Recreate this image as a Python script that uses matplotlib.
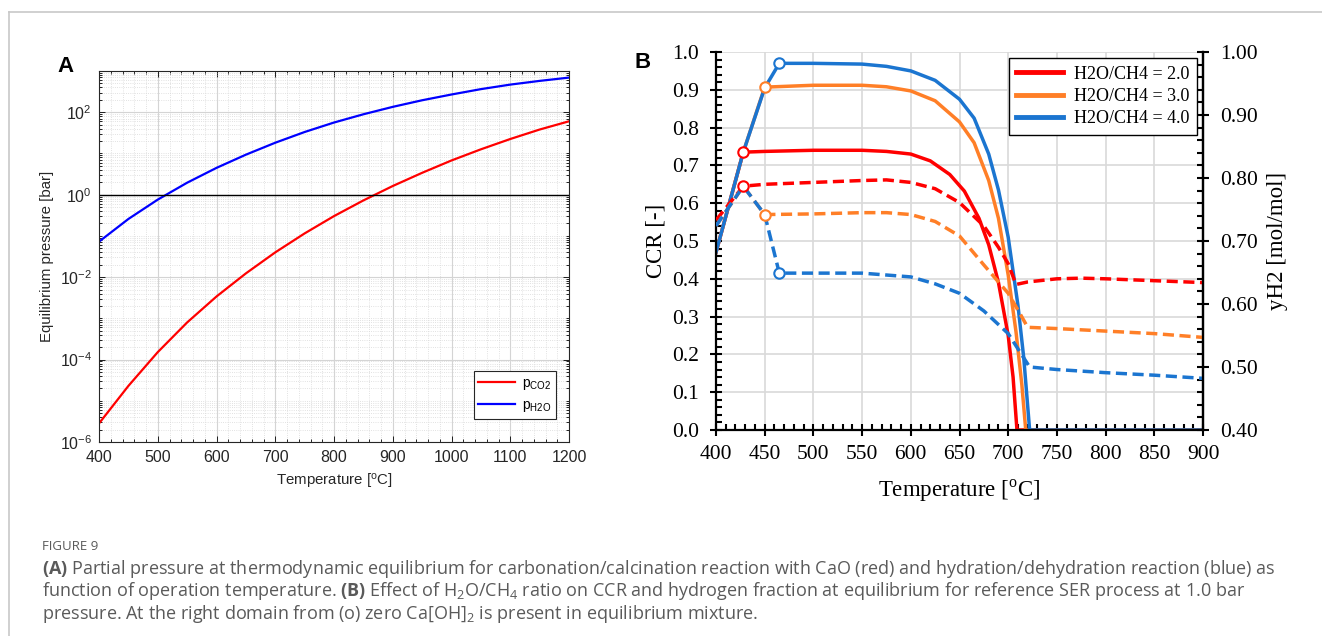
import numpy as np
import matplotlib.pyplot as plt
from matplotlib.lines import Line2D
from matplotlib.ticker import LogLocator, MultipleLocator, FormatStrFormatter, NullFormatter

# ---------------- panel A: equilibrium pressures (log10 bar) ----------------
T_A = [400, 450, 500, 550, 600, 650, 700, 750, 800, 850, 900, 950, 1000, 1050, 1100, 1150, 1200]
LOG_P_CO2 = [-5.55, -4.64, -3.82, -3.10, -2.47, -1.91, -1.40, -0.94, -0.52, -0.14, 0.21,
             0.53, 0.83, 1.10, 1.35, 1.58, 1.78]
LOG_P_H2O = [-1.14, -0.59, -0.12, 0.29, 0.65, 0.97, 1.26, 1.52, 1.75, 1.95, 2.13,
             2.29, 2.43, 2.56, 2.67, 2.76, 2.84]

# ---------------- panel B: CCR (solid) and yH2 (dashed) ----------------
T_CCR_2 = [400, 428, 450, 500, 550, 575, 600, 620, 640, 655, 670, 680, 690, 700, 705, 709, 900]
CCR_2 = [0.47, 0.735, 0.737, 0.74, 0.74, 0.737, 0.73, 0.712, 0.676, 0.632, 0.56, 0.49, 0.39,
         0.25, 0.14, 0.0, 0.0]
T_CCR_3 = [400, 428, 450, 500, 550, 575, 600, 625, 650, 665, 680, 690, 700, 708, 714, 718, 900]
CCR_3 = [0.47, 0.735, 0.907, 0.912, 0.912, 0.908, 0.897, 0.871, 0.815, 0.76, 0.66, 0.56, 0.41,
         0.26, 0.12, 0.0, 0.0]
T_CCR_4 = [400, 428, 450, 465, 500, 550, 575, 600, 625, 650, 665, 680, 690, 700, 710, 716, 722, 900]
CCR_4 = [0.47, 0.735, 0.905, 0.97, 0.97, 0.968, 0.962, 0.95, 0.925, 0.875, 0.825, 0.73, 0.635,
         0.51, 0.33, 0.19, 0.0, 0.0]

T_YH2_2 = [400, 428, 450, 500, 550, 575, 600, 625, 650, 675, 690, 700, 708, 720, 750, 775, 800, 850, 900]
YH2_2 = [0.733, 0.787, 0.790, 0.793, 0.796, 0.797, 0.793, 0.783, 0.761, 0.724, 0.690, 0.664,
         0.631, 0.635, 0.640, 0.641, 0.640, 0.637, 0.634]
T_YH2_3 = [400, 428, 450, 500, 550, 575, 600, 625, 650, 675, 700, 712, 720, 750, 800, 850, 900]
YH2_3 = [0.724, 0.787, 0.742, 0.743, 0.745, 0.745, 0.742, 0.731, 0.708, 0.662, 0.617, 0.585,
         0.563, 0.561, 0.557, 0.553, 0.547]
T_YH2_4 = [400, 428, 450, 465, 500, 550, 600, 625, 650, 675, 700, 712, 722, 750, 800, 850, 900]
YH2_4 = [0.724, 0.787, 0.742, 0.649, 0.649, 0.649, 0.643, 0.632, 0.617, 0.589, 0.553, 0.524,
         0.500, 0.496, 0.491, 0.487, 0.482]

# points from which no Ca(OH)2 is left: (T, CCR) and (T, yH2)
MARK_T = [428, 450, 465]
MARK_CCR = [0.735, 0.907, 0.97]
MARK_YH2 = [0.787, 0.742, 0.649]

RATIO_LABELS = ["H2O/CH4 = 2.0", "H2O/CH4 = 3.0", "H2O/CH4 = 4.0"]
COLORS_B = ["#ff0000", "#ff7f27", "#1b75d0"]

plt.rcParams["mathtext.fontset"] = "custom"
plt.rcParams["mathtext.rm"] = "Open Sans"
plt.rcParams["mathtext.bf"] = "Open Sans:bold"
plt.rcParams["mathtext.it"] = "Open Sans:italic"

fig = plt.figure(figsize=(13.22, 6.36), dpi=100)
W, H = 1322, 636

# thin frame of the figure box
fig.add_artist(Line2D([9 / W, 1], [1 - 12 / H, 1 - 12 / H], color="#c8c8c8", lw=1.2))
fig.add_artist(Line2D([9 / W, 9 / W], [0, 1 - 12 / H], color="#c8c8c8", lw=1.2))

# ============================ panel A ============================
SANS = "Liberation Sans"
axA = fig.add_axes([99 / W, 1 - 442 / H, 470 / W, 371 / H])
axA.plot(T_A, 10 ** np.array(LOG_P_CO2), color="#ff0000", lw=1.6, label=r"p$_{\mathregular{CO2}}$")
axA.plot(T_A, 10 ** np.array(LOG_P_H2O), color="#0000ff", lw=1.6, label=r"p$_{\mathregular{H2O}}$")
axA.axhline(1.0, color="black", lw=1.0)
axA.set_yscale("log")
axA.set_xlim(400, 1200)
axA.set_ylim(1e-6, 1e3)
axA.yaxis.set_major_locator(LogLocator(base=100, numticks=10))
axA.yaxis.set_minor_locator(LogLocator(base=10, subs=np.arange(1, 10), numticks=20))
axA.yaxis.set_minor_formatter(NullFormatter())
axA.xaxis.set_major_locator(MultipleLocator(100))
axA.xaxis.set_minor_locator(MultipleLocator(20))
axA.grid(True, which="major", color="#d4d4d4", lw=0.8)
axA.grid(True, which="minor", color="#d8d8d8", lw=0.6, ls=":")
axA.tick_params(which="both", direction="in", top=True, right=True, labelsize=11.5, width=0.6)
axA.tick_params(which="major", length=4)
axA.tick_params(which="minor", length=2)
axA.tick_params(axis="x", pad=6)
axA.tick_params(axis="y", pad=5)
for lab in axA.get_xticklabels() + axA.get_yticklabels():
    lab.set_family(SANS)
    lab.set_color("#262626")
for sp in axA.spines.values():
    sp.set_color("#262626")
    sp.set_linewidth(0.8)
axA.set_xlabel(r"Temperature [$^{\mathregular{o}}$C]", family=SANS, fontsize=10.8, labelpad=5,
               color="#262626")
axA.set_ylabel("Equilibrium pressure [bar]", family=SANS, fontsize=10.8, labelpad=4,
               color="#262626")
legA = axA.legend(loc="lower right", bbox_to_anchor=(0.972, 0.062),
                  prop={"family": SANS, "size": 10}, fancybox=False,
                  edgecolor="#262626", framealpha=1, handlelength=2.6, borderaxespad=0.0,
                  labelspacing=0.45, borderpad=0.35, handletextpad=0.5)
legA.get_frame().set_linewidth(0.8)
fig.text(66 / W, 1 - 66 / H, "A", fontsize=16, fontweight="bold", family=SANS,
         ha="center", va="center")

# ============================ panel B ============================
SERIF = "Liberation Serif"
axB = fig.add_axes([716 / W, 1 - 430 / H, 487 / W, 378 / H])
axB2 = axB.twinx()
ccr_sets = [(T_CCR_2, CCR_2), (T_CCR_3, CCR_3), (T_CCR_4, CCR_4)]
yh2_sets = [(T_YH2_2, YH2_2), (T_YH2_3, YH2_3), (T_YH2_4, YH2_4)]
for (tx, cy), (ty, yy), col, lab in zip(ccr_sets, yh2_sets, COLORS_B, RATIO_LABELS):
    axB.plot(tx, cy, color=col, lw=2.5, label=lab, solid_joinstyle="round")
    axB2.plot(ty, yy, color=col, lw=2.5, ls=(0, (3.2, 1.6)))
for t, c, y, col in zip(MARK_T, MARK_CCR, MARK_YH2, COLORS_B):
    axB.plot([t], [c], "o", ms=7.5, mfc="white", mec=col, mew=1.5, zorder=5)
    axB2.plot([t], [y], "o", ms=7.5, mfc="white", mec=col, mew=1.5, zorder=5)

axB.set_xlim(400, 900)
axB.set_ylim(0.0, 1.0)
axB2.set_ylim(0.40, 1.00)
axB.xaxis.set_major_locator(MultipleLocator(50))
axB.xaxis.set_minor_locator(MultipleLocator(10))
axB.yaxis.set_major_locator(MultipleLocator(0.1))
axB.yaxis.set_minor_locator(MultipleLocator(0.02))
axB.yaxis.set_major_formatter(FormatStrFormatter("%.1f"))
axB2.yaxis.set_major_locator(MultipleLocator(0.1))
axB2.yaxis.set_minor_locator(MultipleLocator(0.02))
axB2.yaxis.set_major_formatter(FormatStrFormatter("%.2f"))
axB.grid(True, which="major", color="#d9d9d9", lw=1.2)
axB.set_axisbelow(True)

for ax in (axB, axB2):
    ax.spines["top"].set_visible(False)
    for sp in ax.spines.values():
        sp.set_linewidth(1.6)
        sp.set_color("black")
    ax.tick_params(which="major", direction="inout", length=9, width=1.5, labelsize=15.5)
    ax.tick_params(which="minor", direction="in", length=4, width=1.5)
    ax.tick_params(axis="y", which="major", pad=8)
axB.tick_params(axis="x", which="major", pad=6)
axB2.spines["left"].set_visible(False)
axB2.spines["bottom"].set_visible(False)
for lab in axB.get_xticklabels() + axB.get_yticklabels() + axB2.get_yticklabels():
    lab.set_family(SERIF)

axB.set_xlabel(r"Temperature [$^{\mathregular{o}}$C]", family=SERIF, fontsize=16.5, labelpad=10)
axB.set_ylabel("CCR [-]", family=SERIF, fontsize=16.5, labelpad=4)
axB2.set_ylabel("yH2 [mol/mol]", family=SERIF, fontsize=16.5, labelpad=6)

legB = axB2.legend(handles=axB.get_lines()[:3], loc="upper right",
                   prop={"family": SERIF, "size": 13}, fancybox=False, edgecolor="black",
                   framealpha=1, handlelength=2.6, borderaxespad=0.35, labelspacing=0.3,
                   handletextpad=0.6)
legB.get_frame().set_linewidth(1.0)
for h in legB.get_lines():
    h.set_linewidth(3.5)
fig.text(643 / W, 1 - 62 / H, "B", fontsize=16, fontweight="bold", family=SANS,
         ha="center", va="center")

# ============================ caption ============================
CAP = "Open Sans"
GREY = "#5a5a5a"
fig.text(42 / W, 1 - 547 / H, "FIGURE 9", family=CAP, fontsize=9.5, color=GREY, va="center")
cap_lines = [
    r"$\mathbf{(A)}$ Partial pressure at thermodynamic equilibrium for carbonation/calcination "
    r"reaction with CaO (red) and hydration/dehydration reaction (blue) as",
    r"function of operation temperature. $\mathbf{(B)}$ Effect of H$_2$O/CH$_4$ ratio on CCR and "
    r"hydrogen fraction at equilibrium for reference SER process at 1.0 bar",
    r"pressure. At the right domain from (o) zero Ca[OH]$_2$ is present in equilibrium mixture.",
]
for i, line in enumerate(cap_lines):
    fig.text(42 / W, 1 - (569 + 22.5 * i) / H, line, family=CAP, fontsize=13.0,
             color=GREY, va="center")

fig.savefig("out.png", dpi=100)
